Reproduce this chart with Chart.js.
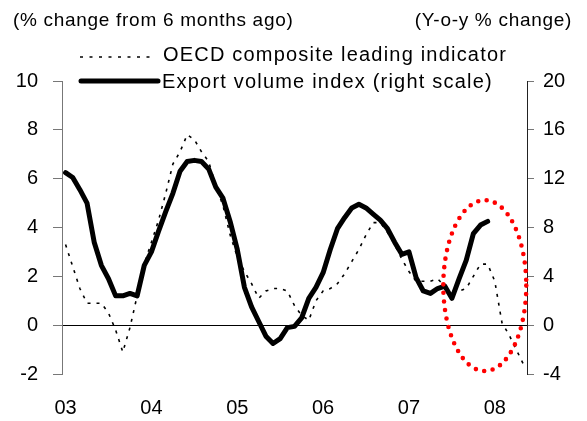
<!DOCTYPE html>
<html>
<head>
<meta charset="utf-8">
<script src="https://cdn.jsdelivr.net/npm/chart.js@4/dist/chart.umd.min.js"></script>
<style>
  body { margin: 0; background: #fff; }
  #wrap { width: 587px; height: 421px; }
</style>
</head>
<body>
<div id="wrap"><canvas id="chart" width="587" height="421"></canvas></div>
<script>
// monthly, Jan 2003 onwards; a year label sits on each January
var yearLabels = ["03", "04", "05", "06", "07", "08"];
var monthCount = 65;

// OECD composite leading indicator, % change from 6 months ago (left scale)
var oecdCli = [
    3.3, 2.4, 1.5, 0.9, 0.9, 0.9, 0.5, -0.2, -1.1, -0.1, 1.2, 2.5,
    3.4, 4.3, 5.4, 6.6, 7.1, 7.8, 7.6, 7.1, 6.7, 5.7, 4.9, 3.7,
    2.8, 2.2, 1.7, 1.1, 1.4, 1.5, 1.5, 1.4, 0.8, 0.4, 0.2, 1.0,
    1.4, 1.5, 1.7, 2.1, 2.6, 3.1, 3.7, 4.2, 4.2, 3.8, 3.3, 2.7,
    2.2, 1.8, 1.8, 1.8, 1.9, 1.6, 1.4, 1.4, 1.5, 2.0, 2.5, 2.5,
    1.8, 0.1, -0.4, -1.0, -1.6
];

// Export volume index, y-o-y % change (right scale)
var exportVolume = [
    12.5, 12.1, 11.1, 10.0, 6.8, 4.9, 3.8, 2.4, 2.4, 2.6, 2.4, 4.9,
    6.0, 7.7, 9.3, 10.8, 12.6, 13.4, 13.5, 13.4, 12.8, 11.3, 10.4, 8.5,
    6.2, 3.1, 1.5, 0.3, -0.9, -1.5, -1.1, -0.2, -0.1, 0.6, 2.2, 3.1,
    4.3, 6.2, 7.9, 8.8, 9.6, 9.9, 9.6, 9.1, 8.6, 7.9, 6.8, 5.8,
    6.0, 3.9, 2.8, 2.6, 3.0, 3.2, 2.2, 3.8, 5.3, 7.5, 8.2, 8.5
];

var leftTicks = { min: -2, max: 10, step: 2 };
var rightTicks = { min: -4, max: 20, step: 4 };

// red dotted ring around the latest months (in axis units)
var highlight = { month: 59.1, value: 1.62, rxMonths: 5.8, ryValue: 3.5 };

var FONT = "'Liberation Sans', Arial, sans-serif";
var AXIS_GREY = '#777';

function toPoints(values) {
    return values.map(function(v, i) { return { x: i + 0.5, y: v }; });
}

var decorations = {
    id: 'decorations',
    afterDatasetsDraw: function(chart) {
        var ctx = chart.ctx;
        var xs = chart.scales.x, ys = chart.scales.y;
        var cx = xs.getPixelForValue(highlight.month);
        var cy = ys.getPixelForValue(highlight.value);
        var rx = xs.getPixelForValue(highlight.month + highlight.rxMonths) - cx;
        var ry = cy - ys.getPixelForValue(highlight.value + highlight.ryValue);
        ctx.save();
        ctx.beginPath();
        ctx.ellipse(cx, cy, rx, ry, 0, 0, Math.PI * 2);
        ctx.strokeStyle = '#ff0000';
        ctx.lineWidth = 4.6;
        ctx.lineCap = 'round';
        ctx.setLineDash([0, 8.6]);
        ctx.stroke();
        ctx.restore();
    },
    afterDraw: function(chart) {
        var ctx = chart.ctx;
        ctx.save();
        ctx.fillStyle = '#000';
        ctx.textBaseline = 'middle';

        // axis captions
        ctx.font = '19px ' + FONT;
        ctx.letterSpacing = '0.7px';
        ctx.textAlign = 'left';
        ctx.fillText('(% change from 6 months ago)', 13, 21);
        ctx.textAlign = 'right';
        ctx.fillText('(Y-o-y % change)', 572, 21);

        // legend
        ctx.textAlign = 'left';
        ctx.font = '20px ' + FONT;
        ctx.letterSpacing = '1.2px';
        ctx.strokeStyle = '#000';
        ctx.lineWidth = 1.6;
        ctx.setLineDash([3, 6.5]);
        ctx.beginPath();
        ctx.moveTo(80, 57);
        ctx.lineTo(150, 57);
        ctx.stroke();
        ctx.fillText('OECD composite leading indicator', 163, 55);

        ctx.setLineDash([]);
        ctx.lineWidth = 5;
        ctx.lineCap = 'round';
        ctx.beginPath();
        ctx.moveTo(81, 81);
        ctx.lineTo(158, 81);
        ctx.stroke();
        ctx.fillText('Export volume index (right scale)', 162, 82);
        ctx.restore();
    }
};

new Chart(document.getElementById('chart'), {
    type: 'line',
    data: {
        datasets: [{
            label: 'OECD composite leading indicator',
            data: toPoints(oecdCli),
            yAxisID: 'y',
            borderColor: '#000',
            borderWidth: 1.6,
            borderDash: [3, 6],
            pointRadius: 0,
            tension: 0,
            fill: false
        }, {
            label: 'Export volume index (right scale)',
            data: toPoints(exportVolume),
            yAxisID: 'y2',
            borderColor: '#000',
            borderWidth: 5,
            borderJoinStyle: 'round',
            borderCapStyle: 'round',
            pointRadius: 0,
            tension: 0,
            fill: false
        }]
    },
    options: {
        responsive: false,
        animation: false,
        layout: { padding: { top: 81, left: 0, right: 0, bottom: 0 } },
        plugins: { legend: { display: false }, tooltip: { enabled: false } },
        scales: {
            x: {
                type: 'linear',
                min: 0,
                max: monthCount,
                border: { display: false },
                grid: { display: false },
                afterBuildTicks: function(scale) {
                    scale.ticks = yearLabels.map(function(l, k) { return { value: 12 * k + 0.5 }; });
                },
                ticks: {
                    autoSkip: false,
                    maxRotation: 0,
                    padding: 14,
                    color: '#000',
                    font: { family: FONT, size: 20 },
                    callback: function(v) { return yearLabels[Math.round((v - 0.5) / 12)] || ''; }
                },
                afterFit: function(scale) { scale.height = 47; }
            },
            y: {
                position: 'left',
                min: leftTicks.min,
                max: leftTicks.max,
                border: { display: true, color: AXIS_GREY },
                grid: {
                    drawOnChartArea: true,
                    color: function(c) { return c.tick && c.tick.value === 0 ? '#000' : 'rgba(0,0,0,0)'; },
                    tickColor: AXIS_GREY,
                    tickLength: 9
                },
                ticks: {
                    stepSize: leftTicks.step,
                    padding: 15,
                    color: '#000',
                    font: { family: FONT, size: 20 }
                },
                afterFit: function(scale) { scale.width = 62; }
            },
            y2: {
                position: 'right',
                min: rightTicks.min,
                max: rightTicks.max,
                border: { display: true, color: '#222' },
                grid: { drawOnChartArea: false, tickColor: AXIS_GREY, tickLength: 7 },
                ticks: {
                    stepSize: rightTicks.step,
                    padding: 9,
                    color: '#000',
                    font: { family: FONT, size: 20 }
                },
                afterFit: function(scale) { scale.width = 60; }
            }
        }
    },
    plugins: [decorations]
});
</script>
</body>
</html>
